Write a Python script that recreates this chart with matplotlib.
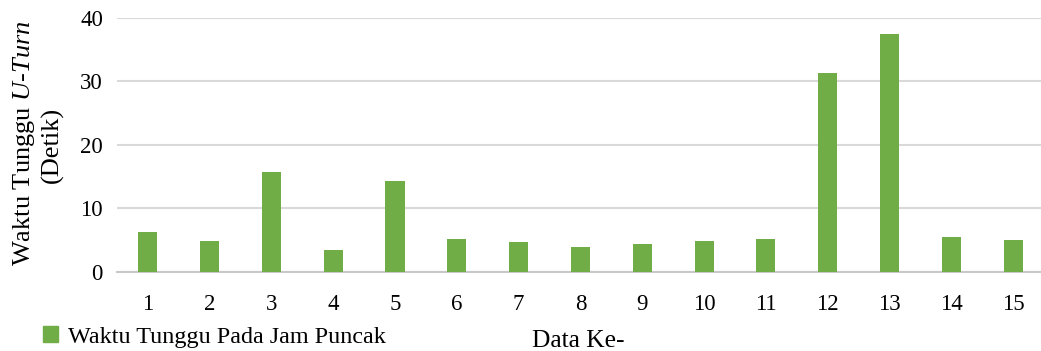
import matplotlib
matplotlib.use("Agg")
import matplotlib.pyplot as plt
from matplotlib.patches import Patch

plt.rcParams["font.family"] = ["Liberation Serif", "DejaVu Serif"]
plt.rcParams["mathtext.fontset"] = "custom"
plt.rcParams["mathtext.rm"] = "Liberation Serif"
plt.rcParams["mathtext.it"] = "Liberation Serif:italic"

data_ke = [str(i) for i in range(1, 16)]
waktu_tunggu = [6.3, 4.8, 15.7, 3.4, 14.3, 5.1, 4.7, 3.9, 4.3, 4.9, 5.1, 31.4, 37.4, 5.4, 5.0]
y_ticks = [0, 10, 20, 30, 40]

BAR_COLOR = "#70AD47"
GRID_COLOR = "#D9D9D9"

fig = plt.figure(figsize=(10.41, 3.51), dpi=100)
ax = fig.add_axes([0.1122, 0.2259, 0.8878, 0.7228])

pos = range(1, len(data_ke) + 1)
ax.bar(pos, waktu_tunggu, width=0.31, color=BAR_COLOR, zorder=3)

ax.set_xlim(0.5, 15.45)
ax.set_ylim(0, 40)
ax.set_yticks(y_ticks)
ax.set_xticks(list(pos))
ax.set_xticklabels(data_ke)
ax.grid(axis="y", color=GRID_COLOR, lw=1.5, zorder=0)
ax.tick_params(axis="both", length=0, labelsize=16.5, colors="#000000")
ax.tick_params(axis="y", pad=10)
ax.tick_params(axis="x", pad=16)
for side in ("top", "right", "left"):
    ax.spines[side].set_visible(False)
ax.spines["bottom"].set_color("#C8C8C8")
ax.spines["bottom"].set_linewidth(1.5)

# two-line y label, second word of first line in italics
fig.text(0.0285, 0.591, "Waktu Tunggu $\\mathit{U}$-$\\mathit{Turn}$",
         rotation=90, rotation_mode="anchor", ha="center", va="baseline", fontsize=19)
fig.text(0.0565, 0.588, "(Detik)", rotation=90, rotation_mode="anchor",
         ha="center", va="baseline", fontsize=19)

fig.text(0.555, 0.0114, "Data Ke-", ha="center", va="baseline", fontsize=18.4)

fig.legend(handles=[Patch(color=BAR_COLOR, label="Waktu Tunggu Pada Jam Puncak")],
           loc="center left", bbox_to_anchor=(0.0413, 0.04), frameon=False,
           borderpad=0, borderaxespad=0,
           fontsize=17.4, handlelength=0.62, handleheight=0.66, handletextpad=0.41)

fig.savefig("out.png", dpi=100)
